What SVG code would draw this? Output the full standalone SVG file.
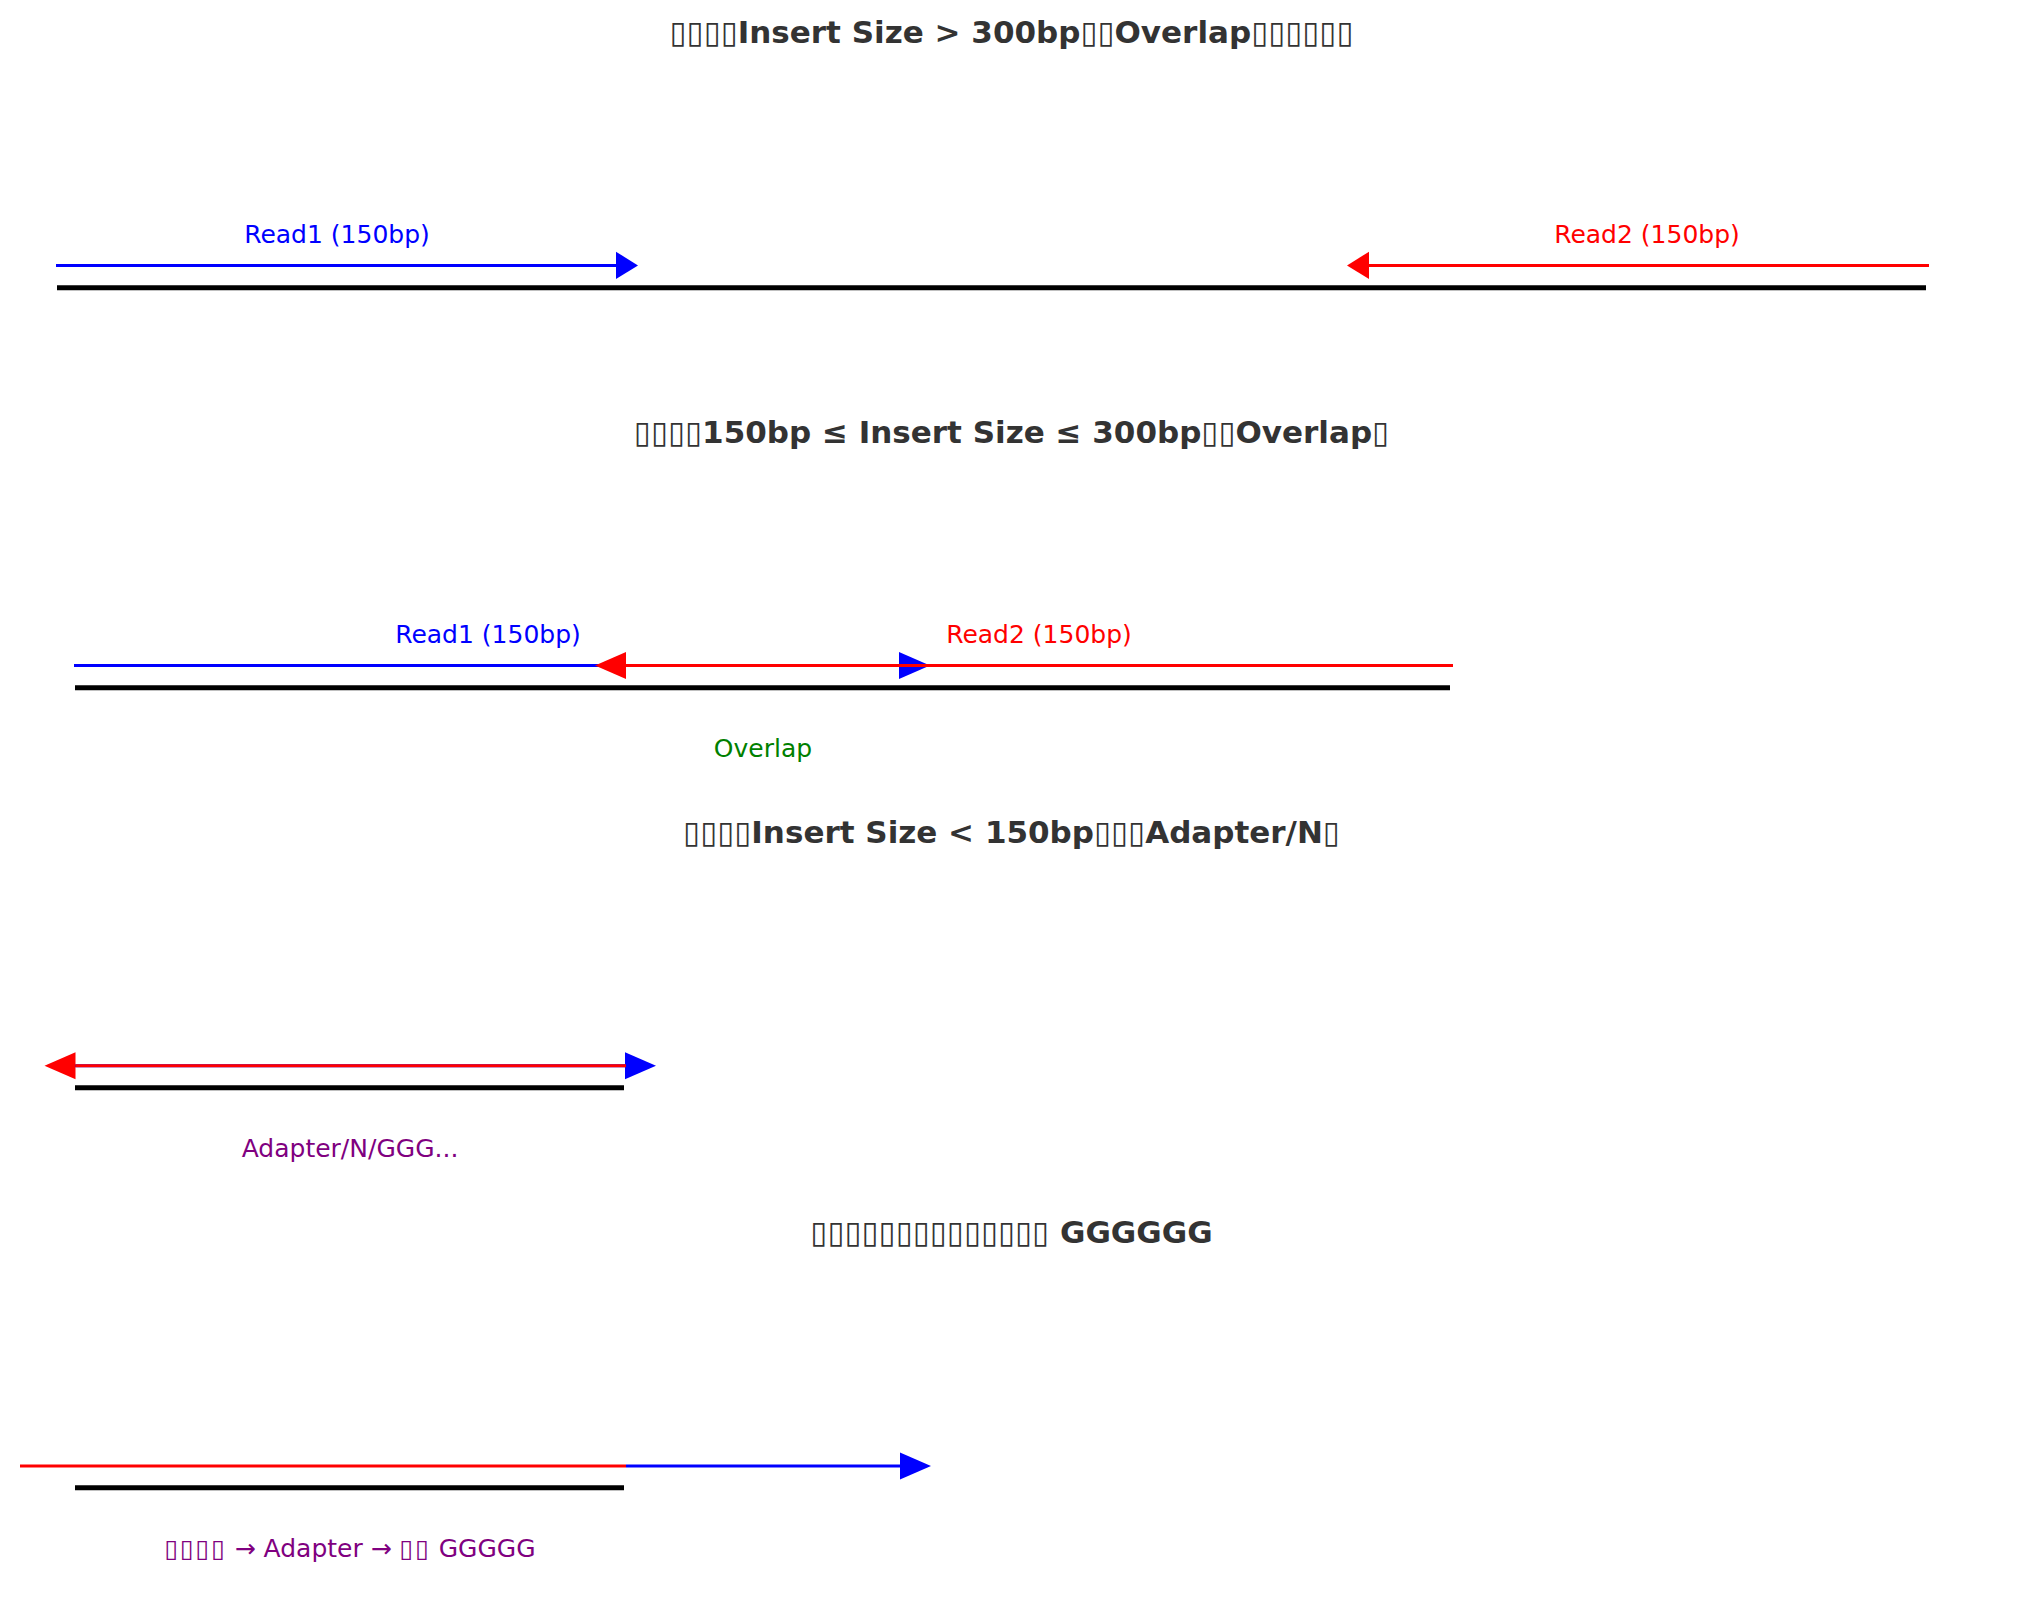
<svg xmlns="http://www.w3.org/2000/svg" width="2023" height="1623" viewBox="0 0 2023 1623">
<defs>
<style>
.title{font-family:"DejaVu Sans","Noto Sans",sans-serif;font-weight:bold;font-size:31px;fill:#333333;text-anchor:middle}
.lbl{font-family:"DejaVu Sans","Noto Sans",sans-serif;font-size:25px;text-anchor:middle}
.box{letter-spacing:1.8px}
.blue{stroke:#0000ff;stroke-width:3;fill:none}
.red{stroke:#ff0000;stroke-width:3;fill:none}
.dna{stroke:#000000;stroke-width:5;fill:none}
</style>
<marker id="hbs" markerUnits="userSpaceOnUse" markerWidth="22" markerHeight="28" viewBox="0 -14 22 28" refX="0" refY="0" orient="auto" overflow="visible"><path d="M0,-13.7 L22,0 L0,13.7 Z" fill="#0000ff"/></marker>
<marker id="hrs" markerUnits="userSpaceOnUse" markerWidth="22" markerHeight="28" viewBox="0 -14 22 28" refX="0" refY="0" orient="auto" overflow="visible"><path d="M0,-13.7 L22,0 L0,13.7 Z" fill="#ff0000"/></marker>
<marker id="hb" markerUnits="userSpaceOnUse" markerWidth="31" markerHeight="28" viewBox="0 -14 31 28" refX="0" refY="0" orient="auto" overflow="visible"><path d="M0,-13.5 L31,0 L0,13.5 Z" fill="#0000ff"/></marker>
<marker id="hr" markerUnits="userSpaceOnUse" markerWidth="31" markerHeight="28" viewBox="0 -14 31 28" refX="0" refY="0" orient="auto" overflow="visible"><path d="M0,-13.5 L31,0 L0,13.5 Z" fill="#ff0000"/></marker>
</defs>
<rect width="2023" height="1623" fill="#ffffff"/>

<g id="panel1">
<text class="title" x="1011.5" y="42.5">▯▯▯▯Insert Size &gt; 300bp▯▯Overlap▯▯▯▯▯▯</text>
<line id="dna1" class="dna" x1="57" y1="287.7" x2="1926" y2="287.7"/>
<text class="lbl" x="337" y="243" fill="#0000ff">Read1 (150bp)</text>
<text class="lbl" x="1647" y="243" fill="#ff0000">Read2 (150bp)</text>
</g>

<g id="panel2">
<text class="title" x="1011.5" y="442.8">▯▯▯▯150bp ≤ Insert Size ≤ 300bp▯▯Overlap▯</text>
<line id="dna2" class="dna" x1="75" y1="687.8" x2="1450" y2="687.8"/>
<text class="lbl" x="488" y="643.3" fill="#0000ff">Read1 (150bp)</text>
<text class="lbl" x="1039" y="643.3" fill="#ff0000">Read2 (150bp)</text>
<text class="lbl" x="763" y="756.7" fill="#008000">Overlap</text>
</g>

<g id="panel3">
<text class="title" x="1011.5" y="842.8">▯▯▯▯Insert Size &lt; 150bp▯▯▯Adapter/N▯</text>
<line id="dna3" class="dna" x1="75" y1="1087.8" x2="624" y2="1087.8"/>
<text class="lbl" x="350" y="1157" fill="#800080">Adapter/N/GGG...</text>
</g>

<g id="panel4">
<text class="title" x="1011.5" y="1243">▯▯▯▯▯▯▯▯▯▯▯▯▯▯ GGGGGG</text>
<line id="dna4" class="dna" x1="75" y1="1487.8" x2="624" y2="1487.8"/>
<text class="lbl" x="350" y="1557" fill="#800080"><tspan class="box">▯▯▯▯</tspan> → Adapter → <tspan class="box">▯▯</tspan> GGGGG</text>
</g>

<g id="connectors">
<line id="p1r1" class="blue" x1="56" y1="265.4" x2="616" y2="265.4" marker-end="url(#hbs)"/>
<line id="p1r2" class="red" x1="1929" y1="265.4" x2="1369" y2="265.4" marker-end="url(#hrs)"/>
<line id="p2r1" class="blue" x1="74" y1="665.6" x2="899" y2="665.6" marker-end="url(#hb)"/>
<line id="p2r2" class="red" x1="1453" y1="665.6" x2="626" y2="665.6" marker-end="url(#hr)"/>
<line id="p3r1" class="blue" x1="75" y1="1065.8" x2="625" y2="1065.8" marker-end="url(#hb)"/>
<line id="p3r2" class="red" x1="626" y1="1065.8" x2="75.5" y2="1065.8" marker-end="url(#hr)"/>
<line id="p4r2" class="red" x1="20" y1="1466" x2="626" y2="1466"/>
<line id="p4r1" class="blue" x1="626" y1="1466" x2="900" y2="1466" marker-end="url(#hb)"/>
</g>
</svg>
